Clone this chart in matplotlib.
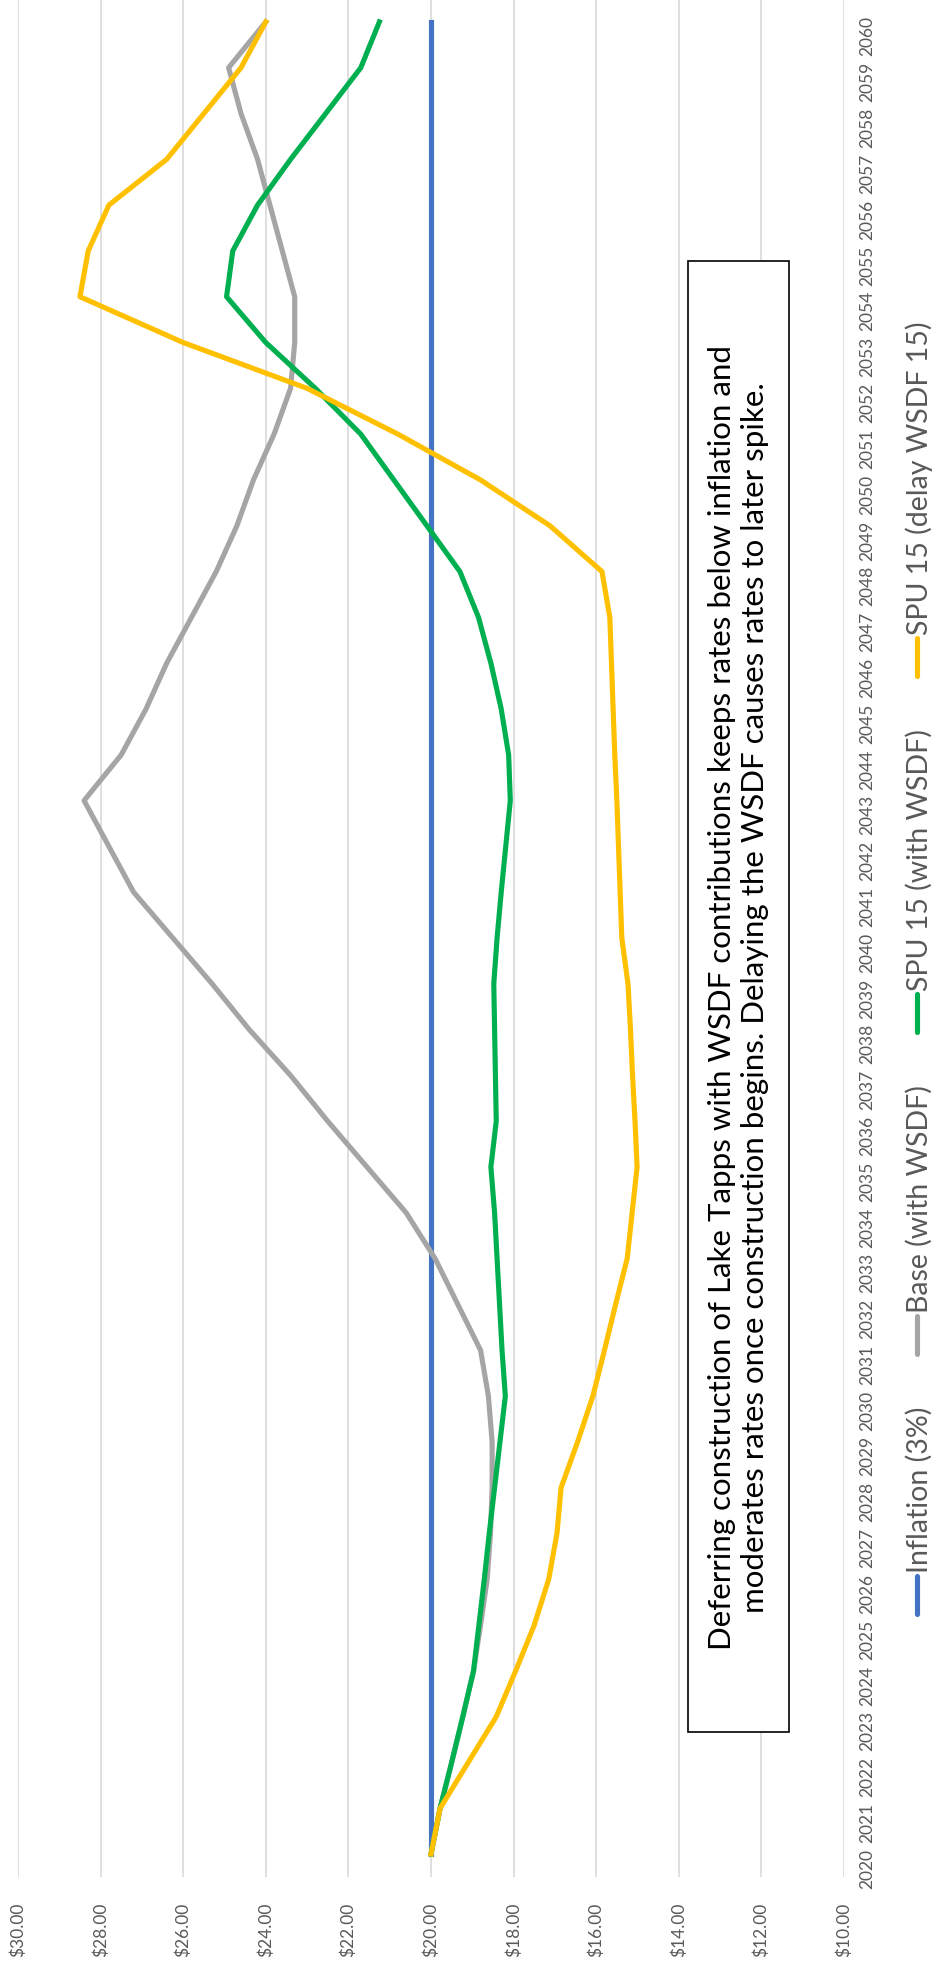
import numpy as np
import matplotlib
matplotlib.use('Agg')
import matplotlib.pyplot as plt
from matplotlib.patches import Rectangle
from matplotlib.lines import Line2D

# chart data (rates by year)
years = list(range(2020, 2061))
inflation = [20.00, 20.00, 20.00, 20.00, 20.00, 20.00, 20.00, 20.00, 20.00, 20.00,
             20.00, 20.00, 20.00, 20.00, 20.00, 20.00, 20.00, 20.00, 20.00, 20.00,
             20.00, 20.00, 20.00, 20.00, 20.00, 20.00, 20.00, 20.00, 20.00, 20.00,
             20.00, 20.00, 20.00, 20.00, 20.00, 20.00, 20.00, 20.00, 20.00, 20.00,
             20.00]
base_wsdf = [20.00, 19.78, 19.50, 19.23, 18.97, 18.80, 18.64, 18.56, 18.52, 18.52,
             18.61, 18.80, 19.35, 19.90, 20.60, 21.55, 22.50, 23.40, 24.40, 25.30,
             26.25, 27.20, 27.80, 28.40, 27.50, 26.90, 26.40, 25.80, 25.20, 24.70,
             24.30, 23.80, 23.40, 23.30, 23.30, 23.60, 23.90, 24.20, 24.60, 24.90,
             24.00]
spu15_wsdf = [20.00, 19.78, 19.50, 19.23, 18.97, 18.84, 18.71, 18.59, 18.46, 18.33,
              18.20, 18.28, 18.34, 18.40, 18.46, 18.55, 18.42, 18.44, 18.46, 18.48,
              18.40, 18.30, 18.19, 18.08, 18.12, 18.30, 18.55, 18.85, 19.30, 20.10,
              20.90, 21.70, 22.80, 24.00, 24.95, 24.80, 24.20, 23.40, 22.55, 21.70,
              21.25]
spu15_delay = [20.00, 19.78, 19.10, 18.42, 17.95, 17.50, 17.15, 16.95, 16.85, 16.45,
               16.08, 15.80, 15.53, 15.25, 15.13, 15.01, 15.06, 15.12, 15.17, 15.23,
               15.38, 15.42, 15.46, 15.50, 15.55, 15.59, 15.63, 15.67, 15.86, 17.12,
               18.80, 20.80, 23.00, 26.00, 28.50, 28.30, 27.80, 26.40, 25.50, 24.60,
               24.00]

series_names = ['Inflation (3%)', 'Base (with WSDF)', 'SPU 15 (with WSDF)', 'SPU 15 (delay WSDF 15)']
series_values = [inflation, base_wsdf, spu15_wsdf, spu15_delay]
series_colors = ['#4472C4', '#A5A5A5', '#00B050', '#FFC000']

value_ticks = [10, 12, 14, 16, 18, 20, 22, 24, 26, 28, 30]

note = ('Deferring construction of Lake Tapps with WSDF contributions keeps rates below inflation and\n'
        'moderates rates once construction begins. Delaying the WSDF causes rates to later spike.')

W, H = 934, 1965
fig = plt.figure(figsize=(W / 100, H / 100), dpi=100)
fig.patch.set_facecolor('white')

# the chart is drawn turned on its side: value across, years upward
ax = fig.add_axes([18 / W, (H - 1878) / H, (844 - 18) / W, 1878 / H])
ax.set_xlim(30, 10)
ax.set_ylim(2019.5, 2060.5)

for vals, col in zip(series_values, series_colors):
    ax.plot(vals, years, color=col, linewidth=3.7, solid_joinstyle='round', zorder=3)

ax.set_xticks(value_ticks)
ax.set_xticklabels(['${:.2f}'.format(v) for v in value_ticks])
ax.set_yticks(years)
ax.set_yticklabels([str(y) for y in years])
ax.yaxis.tick_right()
ax.grid(axis='x', color='#d9d9d9', linewidth=1.2, zorder=0)
ax.grid(axis='y', visible=False)
for s in ax.spines.values():
    s.set_visible(False)
ax.tick_params(axis='x', length=0, pad=18, labelsize=12.5, labelcolor='#595959', labelrotation=90)
ax.tick_params(axis='y', length=0, pad=11, labelsize=12.5, labelcolor='#595959', labelrotation=90)
for lab in ax.get_xticklabels() + ax.get_yticklabels():
    lab.set_family('Lato')

# annotation box
bx0, bx1, by0, by1 = 688, 789, 262, 1733
fig.patches.append(Rectangle((bx0 / W, 1 - by1 / H), (bx1 - bx0) / W, (by1 - by0) / H,
                             transform=fig.transFigure, facecolor='white',
                             edgecolor='black', linewidth=1.2, zorder=5))
fig.text((bx0 + bx1) / 2 / W, 1 - (by0 + by1) / 2 / H, note, rotation=90,
         ha='center', va='center', multialignment='center', fontsize=22.5,
         family='Lato', color='black', linespacing=1.2, zorder=6)

# legend, laid out along the right edge, reading upward
leg_x = 917
mark_len = 38
gap_txt = 4
gap_entry = 52
renderer = fig.canvas.get_renderer()
texts = []
for name in series_names:
    t = fig.text(0, 0, name, rotation=90, ha='center', va='bottom', fontsize=20.5,
                 family='Lato', color='#595959')
    texts.append(t)
lengths = [t.get_window_extent(renderer).height for t in texts]
cur = 1615  # bottom of first entry, px from top
for t, L, col in zip(texts, lengths, series_colors):
    fig.lines.append(Line2D([leg_x / W, leg_x / W], [1 - cur / H, 1 - (cur - mark_len) / H],
                            transform=fig.transFigure, color=col, linewidth=3.7,
                            solid_capstyle='round'))
    cur -= mark_len + gap_txt
    t.set_position(((leg_x + 2) / W, 1 - cur / H))
    cur -= L + gap_entry

fig.savefig('out.png', dpi=100)
